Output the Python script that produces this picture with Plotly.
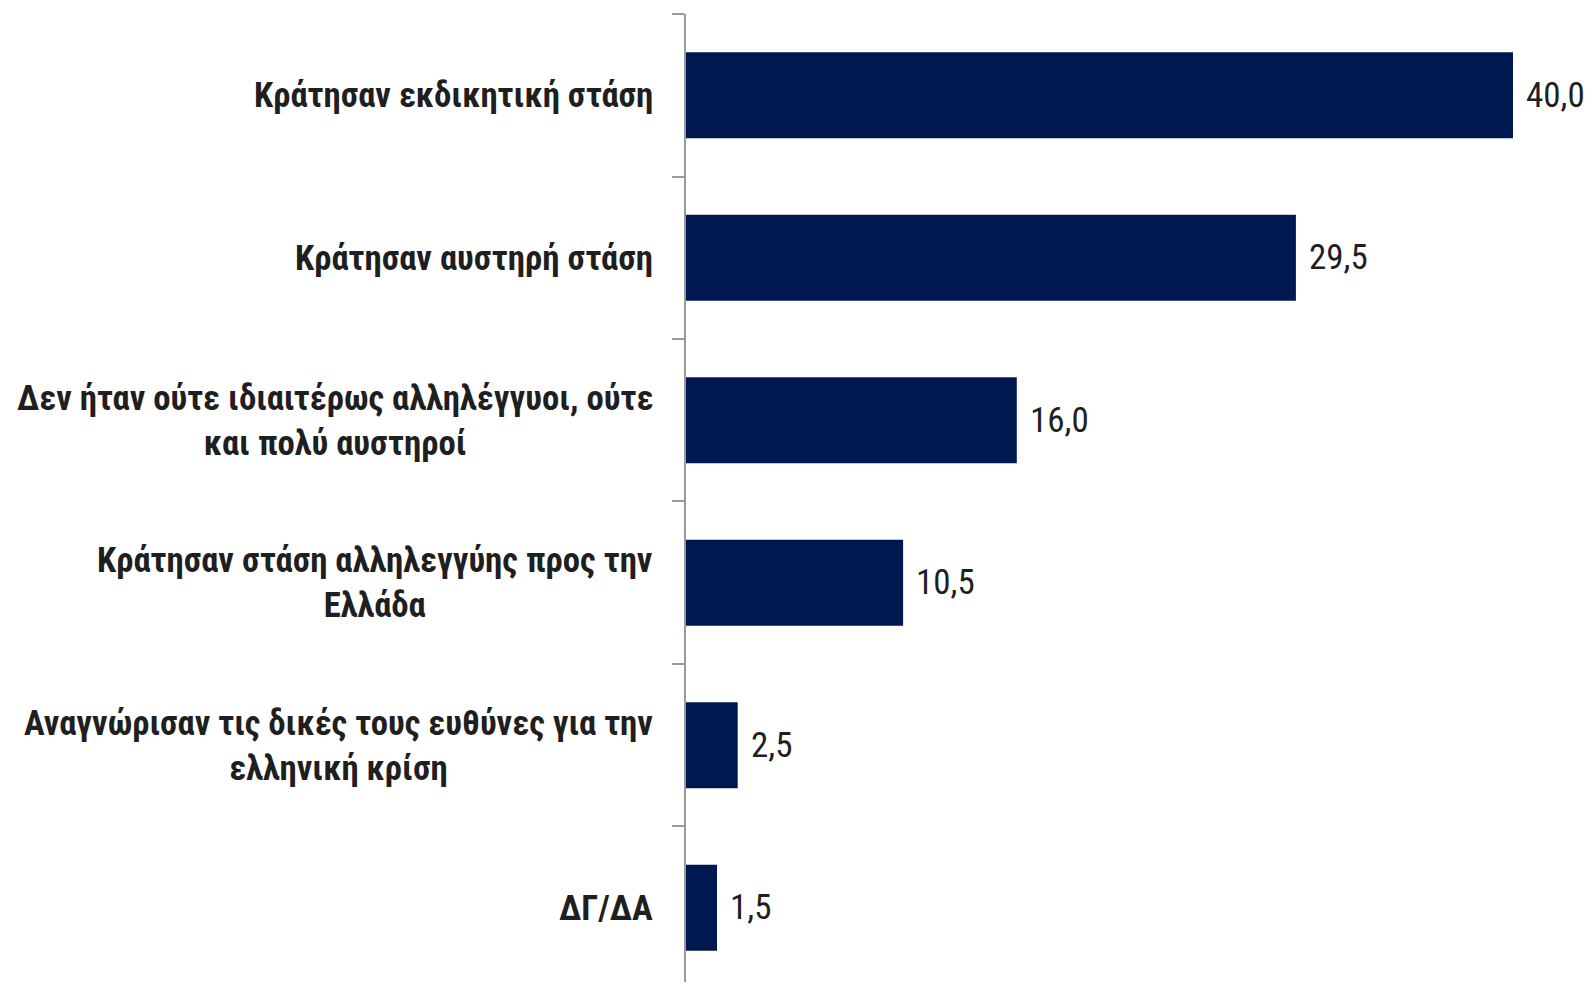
import plotly.graph_objects as go

# --- data ---
categories = [
    "Κράτησαν εκδικητική στάση",
    "Κράτησαν αυστηρή στάση",
    "Δεν ήταν ούτε ιδιαιτέρως αλληλέγγυοι, ούτε<br>και πολύ αυστηροί",
    "Κράτησαν στάση αλληλεγγύης προς την<br>Ελλάδα",
    "Αναγνώρισαν τις δικές τους ευθύνες για την<br>ελληνική κρίση",
    "ΔΓ/ΔΑ",
]
values = [40.0, 29.5, 16.0, 10.5, 2.5, 1.5]
value_labels = [f"{v:.1f}".replace(".", ",") for v in values]

BAR = "#001850"
TEXT = "#1f1f1f"
AXIS = "#9a9a9a"
LABEL_FONT = "Liberation Sans Narrow, Roboto Condensed, DejaVu Sans Condensed, Arial Narrow, sans-serif"

fig = go.Figure()
fig.add_trace(go.Bar(
    x=values, y=categories, orientation="h",
    marker=dict(color=BAR, line=dict(width=0)),
    hoverinfo="skip",
))

# category labels as annotations so multi-line labels are centred
for cat in categories:
    fig.add_annotation(
        x=0, xref="paper", y=cat, yref="y",
        text=f"<b>{cat}</b>", showarrow=False,
        xanchor="right", yanchor="middle", align="center", xshift=-31,
        font=dict(family=LABEL_FONT, size=34.7, color=TEXT),
    )

# value labels to the right of each bar
for cat, v, lab in zip(categories, values, value_labels):
    fig.add_annotation(
        x=v, xref="x", y=cat, yref="y",
        text=lab, showarrow=False,
        xanchor="left", yanchor="middle", xshift=11,
        font=dict(family=LABEL_FONT, size=35, color=TEXT),
    )

# page body adds an 8px margin; keep the figure inside the window
# (bottom boundary sits just past the page edge, as in the reference)
fig.update_layout(
    width=1585, height=974,
    margin=dict(l=678, r=80, t=6, b=0),
    paper_bgcolor="white", plot_bgcolor="white",
    bargap=0.47, showlegend=False,
)
fig.update_xaxes(range=[0, 40], visible=False, fixedrange=True)
fig.update_yaxes(
    range=[5.457, -0.5], showticklabels=False,
    showline=True, linecolor=AXIS, linewidth=2,
    ticks="outside", ticklen=12, tickwidth=2, tickcolor=AXIS,
    tickson="boundaries", showgrid=False, zeroline=False,
)

fig.write_html("out.html")
